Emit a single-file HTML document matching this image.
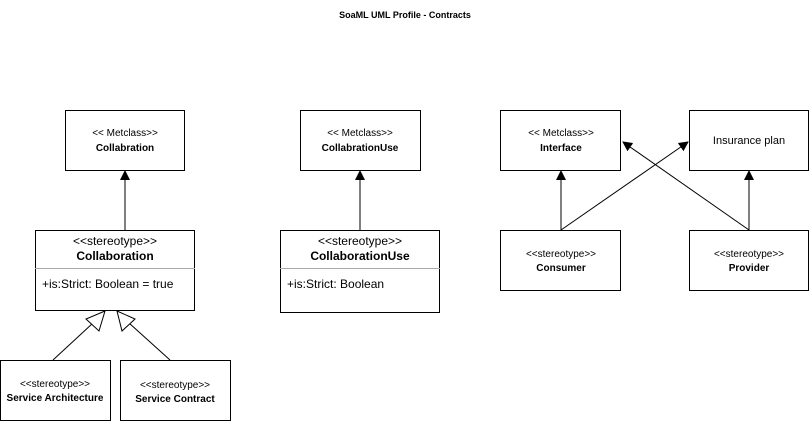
<!DOCTYPE html>
<html><head><style>body{margin:0;background:#fff}</style></head><body>
<svg width="810" height="421" xmlns="http://www.w3.org/2000/svg" font-family="Liberation Sans, Arial, sans-serif">
<defs>
<marker id="a" markerWidth="10" markerHeight="10" refX="9" refY="5" orient="auto" markerUnits="userSpaceOnUse"><path d="M0,0 L10,5 L0,10 Z" fill="#000"/></marker>
</defs>
<text x="405" y="18" text-anchor="middle" font-size="9" font-weight="bold">SoaML UML Profile - Contracts</text>
<g fill="#fff" stroke="#000" stroke-width="1">
<rect x="65.5" y="110.5" width="119" height="60"/>
<rect x="35.5" y="230.5" width="159" height="80"/>
<rect x="0.5" y="360.5" width="110" height="60"/>
<rect x="120.5" y="360.5" width="110" height="60"/>
<rect x="300.5" y="110.5" width="120" height="60"/>
<rect x="280.5" y="230.5" width="159" height="82"/>
<rect x="500.5" y="110.5" width="120" height="60"/>
<rect x="689.5" y="110.5" width="119" height="60"/>
<rect x="500.5" y="230.5" width="120" height="60"/>
<rect x="689.5" y="230.5" width="119" height="60"/>
</g>
<line x1="35" y1="268.5" x2="195" y2="268.5" stroke="#aaa"/>
<line x1="280" y1="268.5" x2="440" y2="268.5" stroke="#aaa"/>
<g stroke="#000" stroke-width="1" fill="none">
<line x1="125" y1="230" x2="125" y2="171" marker-end="url(#a)"/>
<line x1="360" y1="230" x2="360" y2="171" marker-end="url(#a)"/>
<line x1="561" y1="230" x2="561" y2="171" marker-end="url(#a)"/>
<line x1="749" y1="230" x2="749" y2="171" marker-end="url(#a)"/>
<line x1="561" y1="230" x2="688" y2="142" marker-end="url(#a)"/>
<line x1="749" y1="230" x2="623" y2="142" marker-end="url(#a)"/>
<line x1="53" y1="360" x2="93" y2="323"/>
<path d="M105,311 L86,319 L99,331 Z" fill="#fff"/>
<line x1="170" y1="360" x2="129" y2="323"/>
<path d="M117,311 L122,331 L135,319 Z" fill="#fff"/>
</g>
<g font-size="10" text-anchor="middle">
<text x="125" y="136">&lt;&lt; Metclass&gt;&gt;</text>
<text x="125" y="151" font-weight="bold">Collabration</text>
<text x="360" y="136">&lt;&lt; Metclass&gt;&gt;</text>
<text x="360" y="151" font-weight="bold">CollabrationUse</text>
<text x="561" y="136">&lt;&lt; Metclass&gt;&gt;</text>
<text x="561" y="151" font-weight="bold">Interface</text>
<text x="749" y="144" font-size="11">Insurance plan</text>
<text x="561" y="257">&lt;&lt;stereotype&gt;&gt;</text>
<text x="561" y="271" font-weight="bold">Consumer</text>
<text x="749" y="257">&lt;&lt;stereotype&gt;&gt;</text>
<text x="749" y="271" font-weight="bold">Provider</text>
<text x="55" y="387">&lt;&lt;stereotype&gt;&gt;</text>
<text x="55" y="401" font-weight="bold">Service Architecture</text>
<text x="175" y="388">&lt;&lt;stereotype&gt;&gt;</text>
<text x="175" y="402" font-weight="bold">Service Contract</text>
</g>
<g font-size="12">
<text x="115" y="245" text-anchor="middle">&lt;&lt;stereotype&gt;&gt;</text>
<text x="115" y="260" text-anchor="middle" font-weight="bold">Collaboration</text>
<text x="42" y="288">+is:Strict: Boolean = true</text>
<text x="360" y="245" text-anchor="middle">&lt;&lt;stereotype&gt;&gt;</text>
<text x="360" y="260" text-anchor="middle" font-weight="bold">CollaborationUse</text>
<text x="287" y="288">+is:Strict: Boolean</text>
</g>
</svg>
</body></html>
